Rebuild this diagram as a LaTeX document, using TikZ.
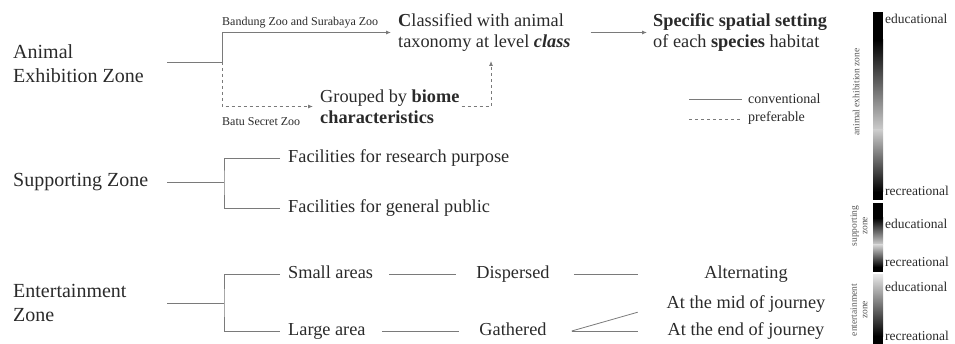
\documentclass[tikz,border=0pt]{standalone}
\usepackage{fontspec}
\setmainfont{Liberation Serif}
\usetikzlibrary{arrows.meta}
\definecolor{txt}{HTML}{2A2A2A}
\definecolor{ln}{HTML}{7A7A7A}
\begin{document}
\begin{tikzpicture}[x=1pt,y=-1pt,
  zone/.style={anchor=west,inner sep=0pt,align=left,text=txt,font=\fontsize{20}{24}\selectfont},
  item/.style={anchor=west,inner sep=0pt,align=left,text=txt,font=\fontsize{18.3}{21.5}\selectfont},
  one/.style={text height=12.5pt,text depth=4pt},
  mid/.style={anchor=center,inner sep=0pt,one,text=txt,font=\fontsize{18.3}{21.5}\selectfont},
  rnode/.style={anchor=center,inner sep=0pt,one,minimum width=158pt,text=txt,font=\fontsize{18.3}{21.5}\selectfont},
  small/.style={anchor=west,inner sep=0pt,text=txt,font=\fontsize{12}{14}\selectfont},
  legend/.style={anchor=west,inner sep=0pt,text=txt,font=\fontsize{14}{16}\selectfont},
  scalelab/.style={anchor=west,inner sep=0pt,text=txt,font=\fontsize{13.5}{15}\selectfont},
  rot/.style={rotate=90,inner sep=0pt,align=center,text=txt!80,font=\fontsize{9.5}{10.5}\selectfont},
  conn/.style={draw=ln,line width=0.8pt},
  arr/.style={conn,-{Latex[length=5pt,width=4pt]}}
]
\useasboundingbox (0,0) rectangle (955,344);

% ---- Animal exhibition zone
\node[zone] (aez) at (13,64) {Animal\\Exhibition Zone};
\coordinate (aezR) at (167,62);
\coordinate (aezJ) at (222,62);
\node[item] (cls) at (398,32.5) {\textbf{C}lassified with animal\\taxonomy at level \textbf{\textit{class}}};
\node[item] (grp) at (320,106.5) {Grouped by \textbf{biome}\\\textbf{characteristics}};
\node[item] (spec) at (653,32.5) {\textbf{Specific spatial setting}\\of each \textbf{species} habitat};
\node[small] (bsz) at (222,23) {Bandung Zoo and Surabaya Zoo};
\node[small] (bat) at (222,122) {Batu Secret Zoo};
\coordinate (clsIn) at (491,61);

\draw[conn] (aezR) -- (aezJ);
\draw[arr,shorten >=7pt] (aezJ) |- (cls.west);
\draw[arr,dashed,shorten >=7pt] (aezJ) |- (grp.west);
\draw[arr,dashed,shorten <=2pt] (grp.east) -| (clsIn);
\draw[arr,shorten <=20pt,shorten >=6pt] (cls.east) -- (spec.west);

% ---- legend
\coordinate (lgA) at (689,99);
\coordinate (lgB) at (689,119);
\node[legend] (conv) at (748,99) {conventional};
\node[legend] (pref) at (748,118) {preferable};
\draw[conn,shorten >=6pt] (lgA) -- (conv.west);
\draw[conn,dashed,shorten >=6pt] (lgB) -- (lgB -| pref.west);

% ---- Supporting zone
\node[zone] (sz) at (13,182) {Supporting Zone};
\coordinate (szR) at (167,182);
\coordinate (szJ) at (224,182);
\node[item,one] (fr) at (288,158) {Facilities for research purpose};
\node[item,one] (fg) at (288,208) {Facilities for general public};
\draw[conn] (szR) -- (szJ);
\draw[conn,shorten <=8pt,shorten >=8pt] (fr.west) -| (szJ) |- (fg.west);

% ---- Entertainment zone
\node[zone] (ez) at (13,303) {Entertainment\\Zone};
\coordinate (ezR) at (167,303);
\coordinate (ezJ) at (224,303);
\node[item,one] (sa) at (288,274) {Small areas};
\node[item,one] (la) at (288,331) {Large area};
\node[mid] (disp) at (513,274) {Dispersed};
\node[mid] (gath) at (513,331) {Gathered};
\node[rnode] (alt) at (746,274) {Alternating};
\node[rnode] (midj) at (746,304) {At the mid of journey};
\node[rnode] (endj) at (746,331) {At the end of journey};
\coordinate (gj) at ([xshift=25pt]gath.east);
\draw[conn] (ezR) -- (ezJ);
\draw[conn,shorten <=8pt,shorten >=8pt] (sa.west) -| (ezJ) |- (la.west);
\draw[conn,shorten <=16pt,shorten >=20pt] (sa.east) -- (disp.west);
\draw[conn,shorten <=16pt,shorten >=20pt] (la.east) -- (gath.west);
\draw[conn,shorten <=24pt,shorten >=29pt] (disp.east) -- (alt.west);
\draw[conn,shorten >=29pt] (gj) -- (endj.west);
\draw[conn,shorten >=30pt] (gj) -- (midj.west);

% ---- gradient bars
\fill[black] (873,12) rectangle (883,40);
\shade[top color=black,bottom color=black!20] (873,40) rectangle (883,130);
\shade[top color=black!20,bottom color=black] (873,130) rectangle (883,192);
\fill[black] (873,192) rectangle (883,200);

\fill[black] (873,203) rectangle (883,218);
\shade[top color=black,bottom color=black!18] (873,218) rectangle (883,245);
\shade[top color=black!18,bottom color=black] (873,245) rectangle (883,267);
\fill[black] (873,267) rectangle (883,272);

\shade[top color=black!10,bottom color=black] (873,275) rectangle (883,336);
\fill[black] (873,336) rectangle (883,344);

\node[scalelab] (e1) at (885,19) {educational};
\node[scalelab] (r1) at (885,191) {recreational};
\node[scalelab] (e2) at (885,224) {educational};
\node[scalelab] (r2) at (885,262) {recreational};
\node[scalelab] (e3) at (885,287) {educational};
\node[scalelab] (r3) at (885,336) {recreational};

\node[rot] (lab1) at (856,92) {animal exhibition zone};
\node[rot] (lab2) at (859,226) {supporting\\zone};
\node[rot] (lab3) at (859,310) {entertainment\\zone};
\end{tikzpicture}
\end{document}
